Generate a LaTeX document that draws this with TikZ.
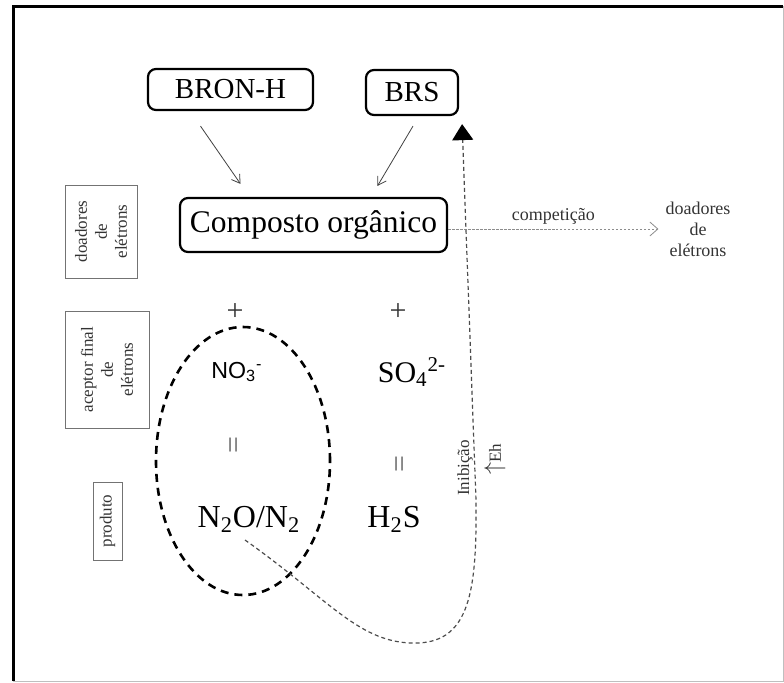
\documentclass[tikz,border=0pt]{standalone}
\usepackage{fontspec}
\setmainfont{Liberation Serif}
\newfontfamily\arialfont{Liberation Sans}
\usetikzlibrary{arrows.meta,calc}
\newcommand{\fsz}[2]{\fontsize{#1}{#2}\selectfont}

\begin{document}
\begin{tikzpicture}[
  x=0.5pt, y=-0.5pt,
  rbox/.style={draw, rounded corners=4pt, line width=1.1pt, inner sep=0pt},
  sidebox/.style={draw=black!55, thin, rotate=90, align=center,
                  font=\fsz{8.5}{10}, text=black!80, inner sep=1pt},
  tag/.style={font=\fsz{9}{10.5}, align=center, text=black!80},
  chem/.style={font=\fsz{16}{18}},
  arr/.style={-{Straight Barb[length=4pt, width=5pt]}, black!75, thin},
  inib/.style={-{Triangle[length=8pt, width=10.5pt, black]}, black!70, semithick,
               dash pattern=on 2pt off 1.5pt}
]
  \useasboundingbox (0,0) rectangle (784,682);
  % moldura
  \draw[line width=1.5pt] (13,681) -- (13,6) -- (783,6);
  \draw[black!25, thin] (783,6) -- (783,681) -- (13,681);

  % bacterias e doador
  \node[rbox, minimum width=82.5pt, minimum height=20.5pt, font=\fsz{14.5}{16}]
    (bron) at (230.5,89.5) {BRON-H};
  \node[rbox, minimum width=46pt, minimum height=22.5pt, font=\fsz{14.5}{16}]
    (brs) at (412,92.5) {BRS};
  \node[rbox, minimum width=133.5pt, minimum height=27pt, font=\fsz{15.75}{18}]
    (comp) at (313.5,225) {Composto orgânico};

  \draw[arr] ($(bron.south)+(-30,15)$) -- ($(comp.north)+(-73,-13)$);
  \draw[arr] ($(brs.south)+(1,10)$) -- ($(comp.north)+(64,-11)$);

  % competicao
  \node[tag] (dr) at (698,229) {doadores\\de\\elétrons};
  \draw[black!45, thin, dash pattern=on 1.2pt off 0.8pt,
        -{Straight Barb[length=4pt, width=7pt]}]
    (comp.east |- 0,229) -- node[tag, above=-1pt] (compet) {competição} (dr.west);

  % rotulos laterais
  \node[sidebox, minimum width=46.5pt, minimum height=36pt] (ld) at (101,231.5)
    {doadores\\de\\elétrons};
  \node[sidebox, minimum width=58.5pt, minimum height=42pt] (la) at (107,369.5)
    {aceptor final\\de\\elétrons};
  \node[sidebox, minimum width=39pt, minimum height=14.5pt] (lp) at (107.5,521)
    {produto};

  % aceptores e produtos
  \node[font=\fsz{15}{16}, text=black!80] (plus1) at (235,312) {+};
  \node[font=\fsz{15}{16}, text=black!80] (plus2) at (398,312) {+};
  \node[font=\arialfont\fsz{11.6}{14}] (no3) at (237,372) {NO\textsubscript{3}\textsuperscript{-}};
  \node[chem, font=\fsz{15}{18}] (so4) at (412,372) {SO\textsubscript{4}\textsuperscript{2-}};
  \node[rotate=90, font=\fsz{15}{16}, text=black!60] (eq1) at (237,445) {=};
  \node[rotate=90, font=\fsz{15}{16}, text=black!60] (eq2) at (403,464) {=};
  \node[chem] (n2o) at (249,519) {N\textsubscript{2}O/N\textsubscript{2}};
  \node[chem] (h2s) at (394,519) {H\textsubscript{2}S};

  \draw[line width=1.3pt, dash pattern=on 4pt off 3pt]
    (243,461) ellipse [x radius=43.5pt, y radius=67pt];

  % inibicao
  \draw[inib] ($(n2o.center)+(-4,21)$) .. controls (330,600) and (360,645) .. (418,643)
    .. controls (470,641) and (477,590) .. (476,500) -- ($(brs.south east)+(3,8)$);
  \node[rotate=90, font=\fsz{8.5}{10}, text=black!80] (inibl) at (465,468) {Inibição};
  \node[rotate=90, font=\fsz{8.5}{10}, text=black!80] (eh) at (495,459)
    {{\fsz{12}{12}$\uparrow$}Eh};
\end{tikzpicture}
\end{document}
